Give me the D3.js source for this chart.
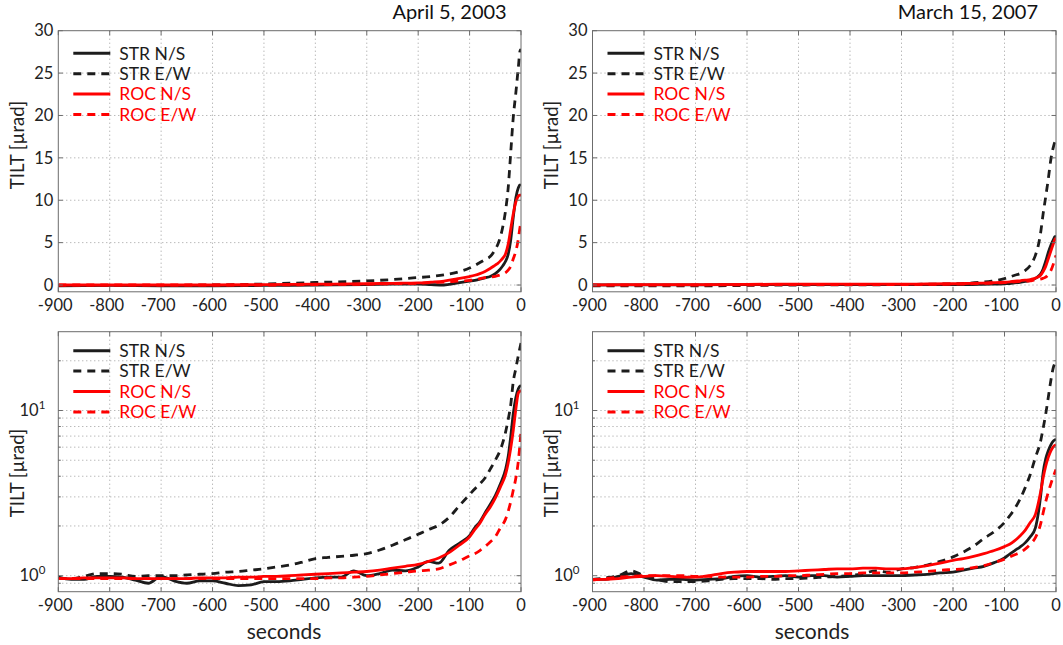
<!DOCTYPE html>
<html>
<head>
<meta charset="utf-8">
<script src="https://cdn.jsdelivr.net/npm/d3@7"></script>
<style>
  html, body { margin: 0; padding: 0; background: #fff; }
  #chart { width: 1063px; height: 645px; }
  svg { font-family: Lato, "Noto Sans", sans-serif; }
  .grid line { stroke: #9c9c9c; stroke-width: 1; stroke-dasharray: 1,3; }
  .frame { fill: none; stroke: #6c6c6c; stroke-width: 1; }
  .tick-mark { stroke: #6c6c6c; stroke-width: 1; }
  .tick-label { font-size: 16.5px; fill: #222; }
  .axis-title { font-size: 18.5px; fill: #222; }
  .x-title { font-size: 21px; fill: #222; }
  .panel-title { font-size: 20px; fill: #111; }
  .legend-label { font-size: 17.5px; }
  .series { fill: none; stroke-width: 2.8; }
</style>
</head>
<body>
<div id="chart"></div>
<script>
// ---- data ----
const seriesNames = ['STR N/S', 'STR E/W', 'ROC N/S', 'ROC E/W'];
const secondTicks = [-900, -800, -700, -600, -500, -400, -300, -200, -100, 0];
const linearTicks = [0, 5, 10, 15, 20, 25, 30];
const logGrid = [0.9, 1, 2, 3, 4, 5, 6, 7, 8, 9, 10, 20];
const logLabels = [{ value: 1, exp: '0' }, { value: 10, exp: '1' }];

// time samples (seconds) for the linear panels
const tTop = [-900, -800, -700, -600, -500, -400, -300, -250, -200, -175, -150, -125, -100,
  -90, -80, -70, -60, -50, -45, -40, -35, -30, -25, -20, -15, -10, -5, -2, 0];

// April 5, 2003 - linear
const strNS2003 = [-0.1, -0.05, -0.1, -0.1, -0.05, 0, 0.05, 0.1, 0.12, 0.05, 0.0, 0.22, 0.45,
  0.55, 0.7, 0.85, 1.0, 1.35, 1.6, 1.9, 2.3, 2.8, 3.6, 5.3, 8.0, 10.3, 11.5, 11.8, 11.7];
const strEW2003 = [-0.05, -0.05, -0.05, 0, 0.12, 0.3, 0.48, 0.65, 0.88, 1.0, 1.2, 1.5, 2.0,
  2.3, 2.65, 3.0, 3.35, 4.2, 4.8, 5.7, 7.0, 8.8, 11.4, 15.6, 19.8, 22.7, 25.8, 27.6, 27.8];
const rocNS2003 = [0, 0, 0, 0, 0.05, 0.1, 0.15, 0.2, 0.25, 0.35, 0.47, 0.72, 1.0,
  1.15, 1.35, 1.6, 1.95, 2.35, 2.55, 2.85, 3.2, 3.7, 4.8, 6.6, 8.4, 9.8, 10.5, 10.6, 10.6];
const rocEW2003 = [0, 0, 0, 0, 0, 0.05, 0.1, 0.15, 0.2, 0.28, 0.35, 0.45, 0.55,
  0.62, 0.75, 0.87, 0.95, 1.03, 1.1, 1.2, 1.3, 1.45, 1.75, 2.2, 3.1, 4.0, 5.5, 6.8, 7.4];

// March 15, 2007 - linear
const strNS2007 = [0, 0.02, 0.02, 0.05, 0.05, 0.05, 0.05, 0.05, 0.05, 0.06, 0.07, 0.1, 0.15,
  0.18, 0.25, 0.32, 0.42, 0.55, 0.65, 0.78, 1.0, 1.3, 1.9, 2.8, 3.85, 4.7, 5.35, 5.7, 5.75];
const strEW2007 = [-0.1, -0.1, -0.1, -0.05, 0, 0.02, 0.05, 0.1, 0.15, 0.2, 0.3, 0.45, 0.75,
  0.95, 1.15, 1.35, 1.7, 2.3, 2.8, 3.5, 4.5, 6.1, 8.4, 10.4, 12.5, 14.8, 16.3, 16.9, 17.0];
const rocNS2007 = [0.02, 0.05, 0.05, 0.08, 0.1, 0.1, 0.1, 0.12, 0.15, 0.18, 0.22, 0.27, 0.33,
  0.38, 0.45, 0.5, 0.57, 0.65, 0.72, 0.82, 0.95, 1.15, 1.6, 2.2, 3.1, 4.0, 4.9, 5.4, 5.5];
const rocEW2007 = [0, -0.02, 0, 0.02, 0.05, 0.05, 0.05, 0.08, 0.1, 0.12, 0.17, 0.22, 0.28,
  0.32, 0.37, 0.42, 0.46, 0.5, 0.55, 0.6, 0.65, 0.7, 0.8, 0.92, 1.25, 1.7, 2.5, 3.1, 3.5];

// time samples (seconds) for the log panels
const tBot = [-900, -875, -850, -825, -800, -775, -750, -725, -700, -675, -650, -625, -600,
  -575, -550, -525, -500, -475, -450, -425, -400, -375, -350, -325, -300, -275, -250, -225,
  -200, -180, -160, -140, -120, -100, -90, -80, -70, -60, -50, -40, -30, -25, -20, -15, -10, -5, 0];

// April 5, 2003 - log
const strNS2003Log = [0.98, 0.95, 0.95, 0.99, 0.99, 0.98, 0.94, 0.9, 0.99, 0.93, 0.9, 0.93, 0.93,
  0.9, 0.87, 0.88, 0.92, 0.92, 0.93, 0.95, 0.97, 0.98, 0.98, 1.07, 1.0, 1.03, 1.08, 1.07,
  1.13, 1.22, 1.19, 1.42, 1.57, 1.75, 1.95, 2.12, 2.4, 2.7, 3.05, 3.6, 4.4, 5.25, 6.95, 9.6, 12.0, 13.6, 14.2];
const strEW2003Log = [0.97, 0.96, 0.99, 1.03, 1.03, 1.02, 0.99, 1.0, 1.0, 1.0, 1.01, 1.02, 1.03,
  1.05, 1.06, 1.08, 1.1, 1.13, 1.16, 1.21, 1.27, 1.29, 1.31, 1.33, 1.36, 1.43, 1.53, 1.65,
  1.78, 1.9, 2.02, 2.25, 2.65, 3.1, 3.35, 3.6, 3.9, 4.4, 5.0, 5.8, 7.4, 8.8, 10.8, 15.0, 18.0, 21.7, 25.6];
const rocNS2003Log = [0.96, 0.96, 0.97, 0.97, 0.97, 0.97, 0.96, 0.96, 0.96, 0.96, 0.96, 0.97, 0.97,
  0.97, 0.98, 0.98, 0.99, 0.99, 1.0, 1.01, 1.02, 1.03, 1.04, 1.05, 1.06, 1.08, 1.11, 1.14,
  1.17, 1.22, 1.28, 1.38, 1.53, 1.72, 1.9, 2.08, 2.35, 2.6, 2.95, 3.45, 4.1, 4.8, 5.9, 7.6, 10.2, 12.8, 13.2];
const rocEW2003Log = [0.96, 0.96, 0.96, 0.96, 0.96, 0.96, 0.96, 0.96, 0.96, 0.96, 0.96, 0.96, 0.96,
  0.96, 0.96, 0.96, 0.96, 0.96, 0.96, 0.96, 0.96, 0.97, 0.97, 0.98, 0.99, 1.01, 1.03, 1.05,
  1.07, 1.08, 1.1, 1.16, 1.23, 1.32, 1.36, 1.42, 1.5, 1.6, 1.72, 1.95, 2.2, 2.45, 2.8, 3.3, 3.9, 5.0, 7.5];

// March 15, 2007 - log
const strNS2007Log = [0.95, 0.95, 0.99, 1.03, 0.98, 0.94, 0.95, 0.95, 0.94, 0.95, 0.96, 0.99, 1.0,
  0.98, 0.99, 1.0, 0.98, 1.0, 1.0, 0.98, 0.99, 1.0, 1.0, 1.0, 1.0, 1.01, 1.02, 1.04,
  1.05, 1.08, 1.11, 1.14, 1.2, 1.28, 1.35, 1.42, 1.49, 1.58, 1.72, 1.95, 3.0, 4.2, 5.1, 5.7, 6.2, 6.55, 6.7];
const strEW2007Log = [0.95, 0.97, 1.0, 1.07, 1.0, 0.95, 0.92, 0.92, 0.92, 0.93, 0.95, 0.96, 0.96,
  0.96, 0.95, 0.96, 0.96, 0.97, 0.98, 0.99, 1.0, 1.03, 1.07, 1.05, 1.1, 1.12, 1.16, 1.22,
  1.3, 1.39, 1.51, 1.68, 1.85, 2.1, 2.3, 2.55, 2.9, 3.4, 4.1, 5.2, 6.5, 7.8, 9.5, 12.0, 15.2, 18.3, 19.8];
const rocNS2007Log = [0.95, 0.95, 0.96, 0.98, 0.99, 1.0, 0.99, 0.98, 0.98, 1.0, 1.03, 1.05, 1.06,
  1.06, 1.06, 1.06, 1.07, 1.08, 1.09, 1.1, 1.1, 1.11, 1.11, 1.1, 1.1, 1.12, 1.15, 1.19,
  1.24, 1.27, 1.31, 1.36, 1.42, 1.5, 1.55, 1.63, 1.74, 1.88, 2.1, 2.35, 3.2, 3.9, 4.6, 5.2, 5.7, 6.05, 6.2];
const rocEW2007Log = [0.94, 0.96, 0.98, 0.99, 1.0, 1.0, 1.0, 1.0, 0.99, 0.99, 0.98, 0.98, 0.98,
  0.99, 0.99, 1.0, 1.0, 1.01, 1.02, 1.03, 1.03, 1.04, 1.04, 1.04, 1.04, 1.05, 1.06, 1.08,
  1.09, 1.1, 1.12, 1.15, 1.2, 1.26, 1.3, 1.34, 1.38, 1.45, 1.55, 1.7, 2.05, 2.4, 2.8, 3.2, 3.6, 4.0, 4.4];

// ---- styles ----
const seriesColors = ['#1c1c1c', '#1c1c1c', '#ff0000', '#ff0000'];
const seriesDash = [null, '8,6', null, '8,6'];

// ---- layout ----
const W = 1063, H = 645;
const LEFT = [58.3, 521], RIGHT = [592.5, 1056];
const TOP = [30.7, 291.8], BOTTOM = [331.7, 591.7];

const panels = [
  { id: 'tl', cols: LEFT, rows: TOP, log: false, t: tTop, title: 'April 5, 2003',
    data: [strNS2003, strEW2003, rocNS2003, rocEW2003], legendTop: 53.3, ylabelY: 145, titleRight: 506.7 },
  { id: 'tr', cols: RIGHT, rows: TOP, log: false, t: tTop, title: 'March 15, 2007',
    data: [strNS2007, strEW2007, rocNS2007, rocEW2007], legendTop: 53.3, ylabelY: 145, titleRight: 1038 },
  { id: 'bl', cols: LEFT, rows: BOTTOM, log: true, t: tBot, xtitle: 'seconds', xtitleX: 284,
    data: [strNS2003Log, strEW2003Log, rocNS2003Log, rocEW2003Log], legendTop: 350.7, ylabelY: 473 },
  { id: 'br', cols: RIGHT, rows: BOTTOM, log: true, t: tBot, xtitle: 'seconds', xtitleX: 812,
    data: [strNS2007Log, strEW2007Log, rocNS2007Log, rocEW2007Log], legendTop: 350.7, ylabelY: 473 }
];

const svg = d3.select('#chart').append('svg')
  .attr('width', W)
  .attr('height', H);

function drawPanel(p) {
  const [x0, x1] = p.cols;
  const [y0, y1] = p.rows;
  const x = d3.scaleLinear().domain([-900, 0]).range([x0, x1]);
  const y = p.log
    ? d3.scaleLog().domain([0.8, 30]).range([y1, y0])
    : d3.scaleLinear().domain([-0.8, 30]).range([y1, y0]);

  const g = svg.append('g').attr('class', 'panel');

  // dotted grid
  const grid = g.append('g').attr('class', 'grid');
  grid.selectAll('.vx')
    .data(secondTicks.filter(d => d > -900 && d < 0))
    .join('line')
    .attr('x1', d => x(d)).attr('x2', d => x(d))
    .attr('y1', y0).attr('y2', y1);
  const yGrid = p.log ? logGrid : linearTicks.filter(d => d < 30);
  grid.selectAll('.hy')
    .data(yGrid)
    .join('line')
    .attr('x1', x0).attr('x2', x1)
    .attr('y1', d => y(d)).attr('y2', d => y(d));

  // curves
  g.append('clipPath').attr('id', 'clip-' + p.id)
    .append('rect').attr('x', x0).attr('y', y0).attr('width', x1 - x0).attr('height', y1 - y0);

  const line = d3.line()
    .x(d => x(d[0]))
    .y(d => y(d[1]))
    .curve(d3.curveMonotoneX);

  // draw black first, red on top like the original
  p.data.forEach((vals, i) => {
    g.append('path')
      .attr('class', 'series')
      .attr('clip-path', `url(#clip-${p.id})`)
      .attr('d', line(p.t.map((t, k) => [t, vals[k]])))
      .attr('stroke', seriesColors[i])
      .attr('stroke-dasharray', seriesDash[i]);
  });

  // frame and inward ticks
  g.append('rect').attr('class', 'frame')
    .attr('x', x0).attr('y', y0).attr('width', x1 - x0).attr('height', y1 - y0);

  const tk = 4.5;
  secondTicks.forEach(d => {
    g.append('line').attr('class', 'tick-mark')
      .attr('x1', x(d)).attr('x2', x(d)).attr('y1', y1).attr('y2', y1 - tk);
    g.append('line').attr('class', 'tick-mark')
      .attr('x1', x(d)).attr('x2', x(d)).attr('y1', y0).attr('y2', y0 + tk);
  });
  const yTickVals = p.log ? logGrid : linearTicks;
  yTickVals.forEach(d => {
    const len = p.log && d !== 1 && d !== 10 ? 2.5 : tk;
    g.append('line').attr('class', 'tick-mark')
      .attr('x1', x0).attr('x2', x0 + len).attr('y1', y(d)).attr('y2', y(d));
    g.append('line').attr('class', 'tick-mark')
      .attr('x1', x1).attr('x2', x1 - len).attr('y1', y(d)).attr('y2', y(d));
  });

  // x tick labels (digits centred on the tick, minus hangs left)
  secondTicks.forEach(d => {
    const label = g.append('text')
      .attr('class', 'tick-label')
      .attr('x', x(d))
      .attr('y', y1 + 19.5)
      .attr('text-anchor', 'middle')
      .text(String(d));
    if (d < 0) {
      const full = label.node().getComputedTextLength();
      const tmp = g.append('text').attr('class', 'tick-label').text(String(-d));
      const digits = tmp.node().getComputedTextLength();
      tmp.remove();
      label.attr('dx', -(full - digits) / 2);
    }
  });

  // y tick labels
  if (p.log) {
    logLabels.forEach(d => {
      const t = g.append('text')
        .attr('class', 'tick-label')
        .attr('x', x0 - 13)
        .attr('y', y(d.value) + 5.8)
        .attr('text-anchor', 'end');
      t.append('tspan').text('10');
      t.append('tspan').attr('dy', -7.5).style('font-size', '11.5px').text(d.exp);
    });
  } else {
    linearTicks.forEach(d => {
      g.append('text')
        .attr('class', 'tick-label')
        .attr('x', x0 - 5)
        .attr('y', y(d))
        .attr('dy', '0.35em')
        .attr('text-anchor', 'end')
        .text(d);
    });
  }

  // y axis title
  g.append('text')
    .attr('class', 'axis-title')
    .attr('transform', `translate(${x0 - 41},${p.ylabelY}) rotate(-90)`)
    .attr('text-anchor', 'middle')
    .attr('dy', '0.35em')
    .text('TILT [µrad]');

  if (p.title) {
    g.append('text')
      .attr('class', 'panel-title')
      .attr('x', p.titleRight)
      .attr('y', 19)
      .attr('text-anchor', 'end')
      .text(p.title);
  }
  if (p.xtitle) {
    g.append('text')
      .attr('class', 'x-title')
      .attr('x', p.xtitleX)
      .attr('y', 639)
      .attr('text-anchor', 'middle')
      .text(p.xtitle);
  }

  // legend (no box)
  const lg = g.append('g').attr('class', 'legend');
  seriesNames.forEach((name, i) => {
    const ly = p.legendTop + i * 20.4;
    lg.append('line')
      .attr('x1', x0 + 15).attr('x2', x0 + 52)
      .attr('y1', ly).attr('y2', ly)
      .attr('stroke', seriesColors[i])
      .attr('stroke-width', 3)
      .attr('stroke-dasharray', seriesDash[i]);
    lg.append('text')
      .attr('class', 'legend-label')
      .attr('x', x0 + 61)
      .attr('y', ly)
      .attr('dy', '0.36em')
      .attr('fill', seriesColors[i])
      .text(name);
  });
}

panels.forEach(drawPanel);
</script>
</body>
</html>
